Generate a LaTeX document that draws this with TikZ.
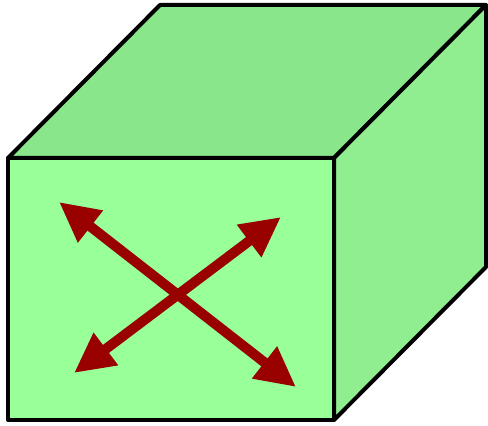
\documentclass[tikz,border=0pt]{standalone}
\usepackage{tikz}
\usetikzlibrary{arrows.meta}
\definecolor{frontgreen}{HTML}{99FF99}
\definecolor{topgreen}{HTML}{8AE68A}
\definecolor{sidegreen}{HTML}{90EE90}
\definecolor{arrowred}{HTML}{990000}
\tikzset{
  face/.style={draw=black, line width=2pt, line join=round},
  dirarr/.style={arrowred, line width=5pt,
                 {Triangle[length=20pt, width=19pt]}-{Triangle[length=20pt, width=19pt]}},
}
\begin{document}
\begin{tikzpicture}[x=0.5pt, y=-0.5pt]
  \useasboundingbox (0,0) rectangle (488,426);
  % cube corners
  \coordinate (fa) at (8,158);
  \coordinate (fb) at (334,158);
  \coordinate (fc) at (334,420);
  \coordinate (fd) at (8,420);
  \coordinate (ba) at (160,5);
  \coordinate (bb) at (486,5);
  \coordinate (bc) at (486,267);
  \draw[face, fill=topgreen] (fa) -- (ba) -- (bb) -- (fb) -- cycle;
  \draw[face, fill=sidegreen] (fb) -- (bb) -- (bc) -- (fc) -- cycle;
  \draw[face, fill=frontgreen] (fa) -- (fb) -- (fc) -- (fd) -- cycle;
  % crossed arrows
  \coordinate (nw) at (59,202);
  \coordinate (se) at (296,387);
  \coordinate (ne) at (281,217);
  \coordinate (sw) at (74,373);
  \draw[dirarr] (nw) -- (se);
  \draw[dirarr] (sw) -- (ne);
\end{tikzpicture}
\end{document}
